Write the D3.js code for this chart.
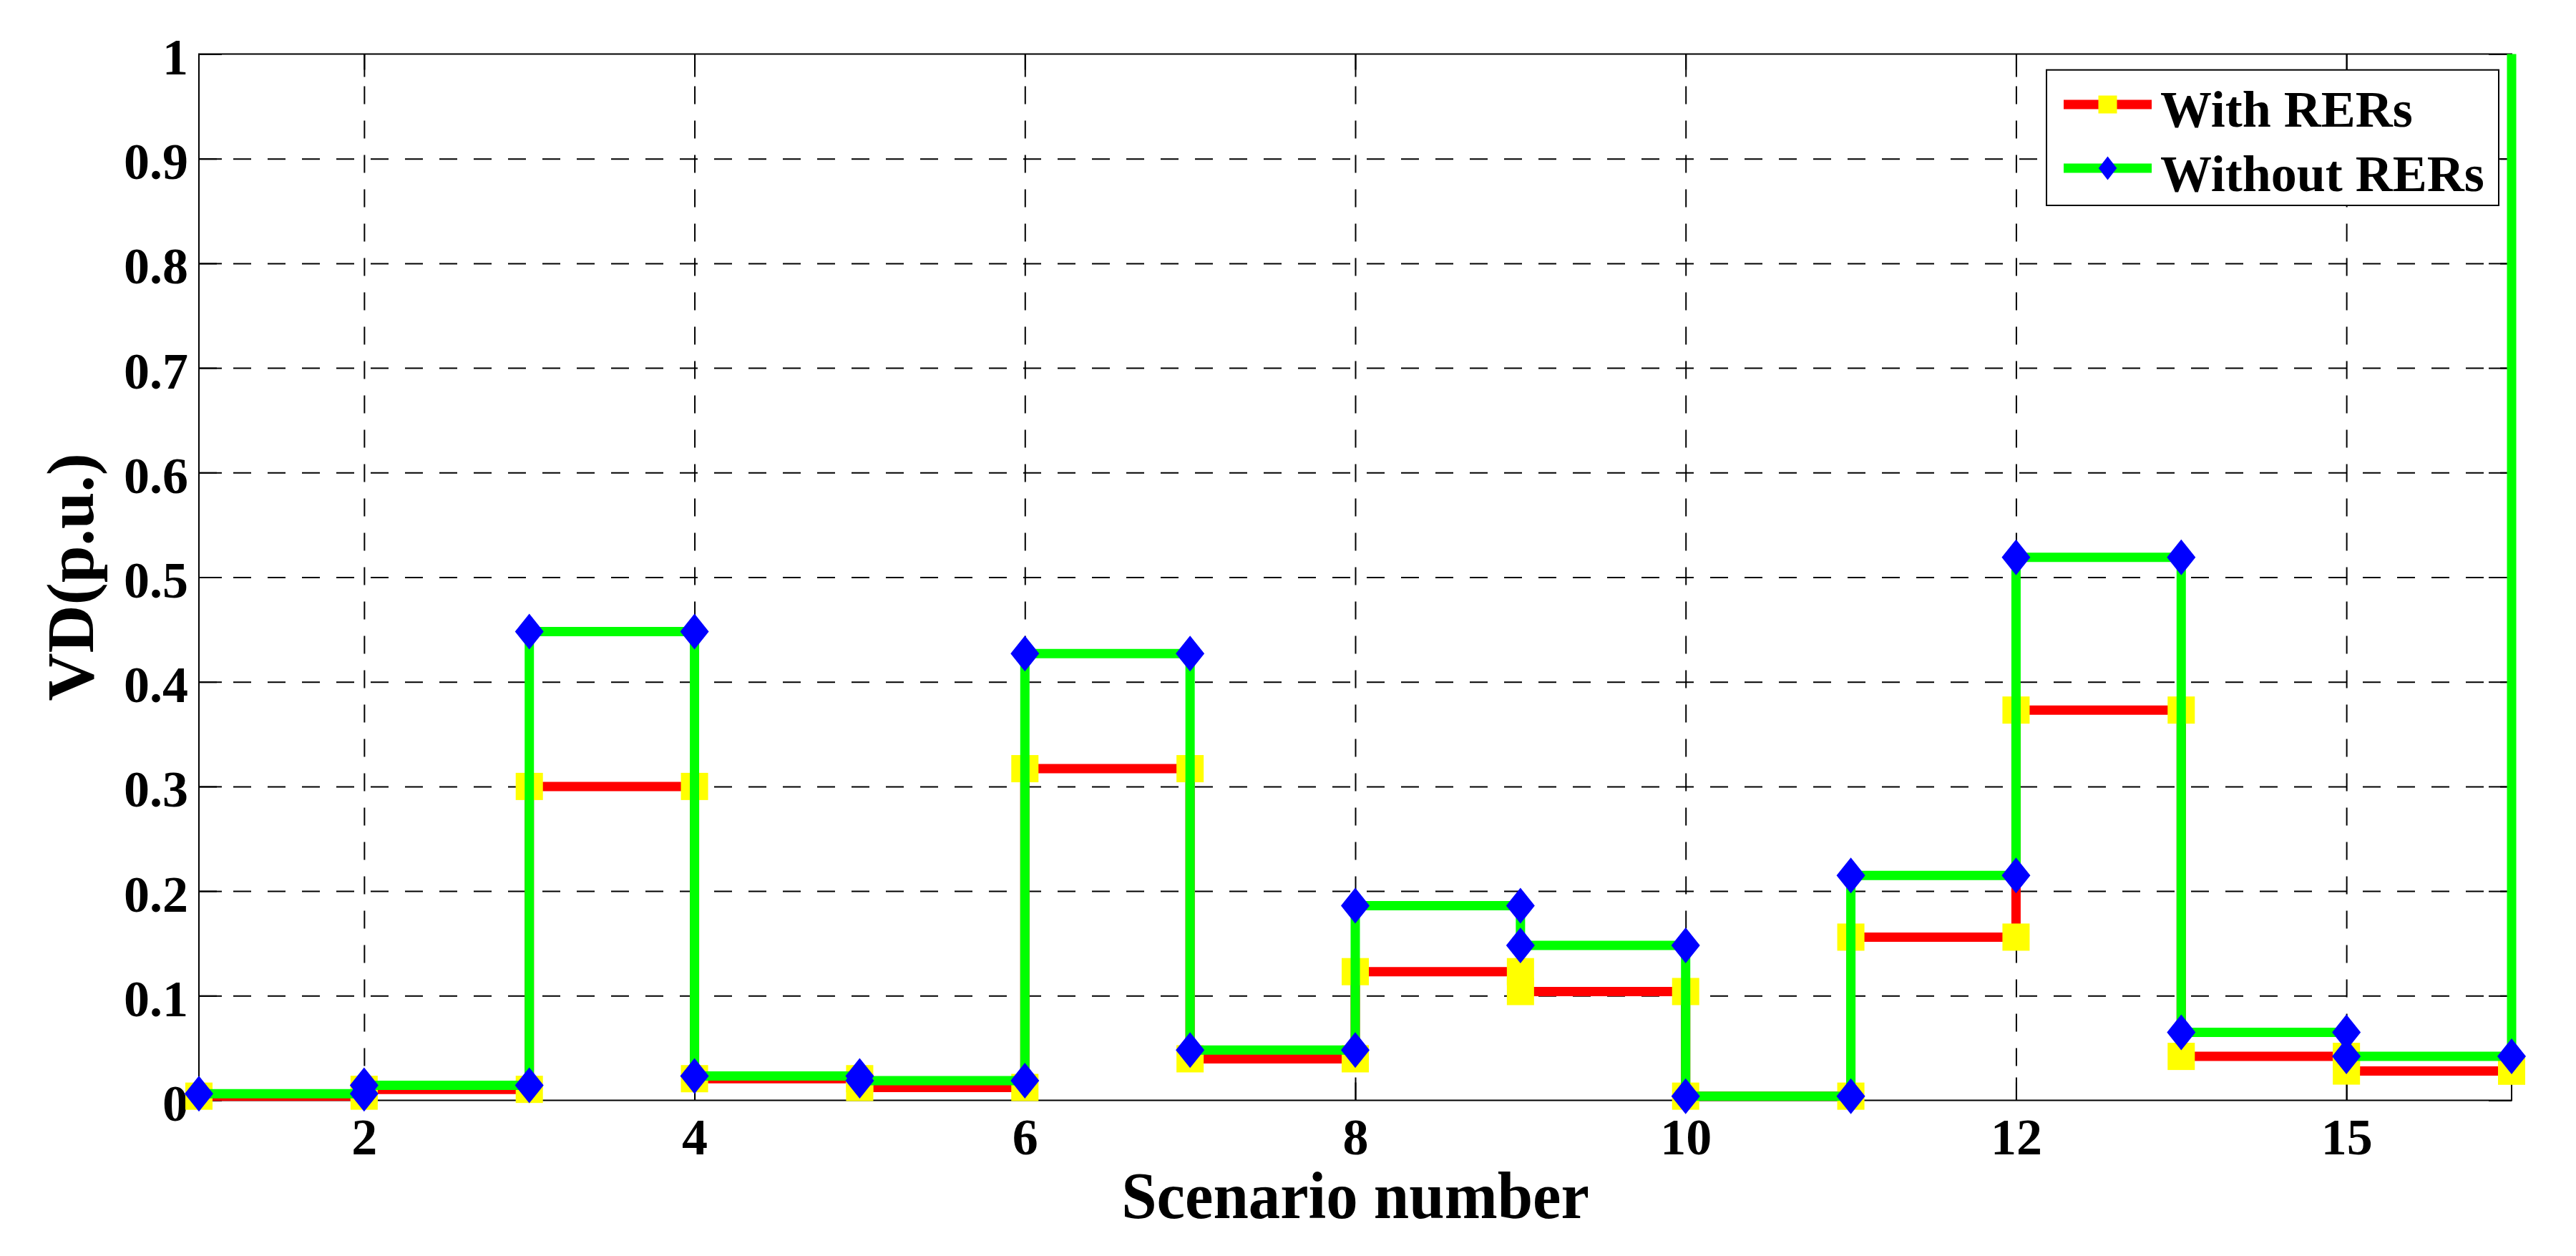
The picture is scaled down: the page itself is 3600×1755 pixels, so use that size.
<!DOCTYPE html>
<html>
<head>
<meta charset="utf-8">
<script src="https://cdn.jsdelivr.net/npm/d3@7"></script>
<style>
  html, body { margin: 0; padding: 0; background: #ffffff; }
  svg { display: block; }
</style>
</head>
<body>
<script>
// ---------------- data ----------------
const scenarios = [1, 2, 3, 4, 5, 6, 7, 8, 9, 10, 11, 12, 13, 14, 15];
const withRERs    = [0.004, 0.0105, 0.300, 0.0207, 0.0123, 0.317, 0.0397, 0.123, 0.104, 0.004, 0.156, 0.373, 0.042, 0.028, 0.028];
const withoutRERs = [0.0063, 0.0143, 0.448, 0.0232, 0.0188, 0.427, 0.048, 0.186, 0.148, 0.004, 0.215, 0.519, 0.065, 0.042, 1.5];
const xTickValues = [2, 4, 6, 8, 10, 12, 14];
const xTickLabels = ["2", "4", "6", "8", "10", "12", "15"];
const yTickValues = [0, 0.1, 0.2, 0.3, 0.4, 0.5, 0.6, 0.7, 0.8, 0.9, 1];
const yTickLabels = ["0", "0.1", "0.2", "0.3", "0.4", "0.5", "0.6", "0.7", "0.8", "0.9", "1"];
const seriesNames = ["With RERs", "Without RERs"];
const xLabel = "Scenario number";
const yLabel = "VD(p.u.)";

// ---------------- layout ----------------
const W = 3600, H = 1755;
const L = 278, R = 3510, T = 75.5, B = 1537.5;
const FONT = "'Liberation Serif', 'Times New Roman', Times, serif";

const svg = d3.select("body").append("svg")
  .attr("width", W).attr("height", H)
  .style("background", "#fff");

const x = d3.scaleLinear().domain([1, 15]).range([L, R]);
const y = d3.scaleLinear().domain([0, 1]).range([B, T]);

// clip (vertical only)
svg.append("defs").append("clipPath").attr("id", "clipY")
  .append("rect").attr("x", L - 100).attr("y", T).attr("width", (R - L) + 200).attr("height", (B - T) + 100);

// ---------------- grid ----------------
const grid = svg.append("g").attr("class", "grid");
grid.append("g").attr("transform", `translate(0,${B})`)
  .call(d3.axisBottom(x).tickValues(xTickValues).tickSize(-(B - T)).tickFormat(""))
  .call(g => g.select(".domain").remove())
  .call(g => g.selectAll("line").attr("stroke", "#000").attr("stroke-width", 2).attr("stroke-dasharray", "25,23"));
grid.append("g").attr("transform", `translate(${L},0)`)
  .call(d3.axisLeft(y).tickValues(yTickValues.filter(v => v > 0 && v < 1)).tickSize(-(R - L)).tickFormat(""))
  .call(g => g.select(".domain").remove())
  .call(g => g.selectAll("line").attr("stroke", "#000").attr("stroke-width", 2).attr("stroke-dasharray", "25,23"));

// ---------------- axes ----------------
const tickLen = 32;
const xAxis = svg.append("g").attr("transform", `translate(0,${B})`)
  .call(d3.axisBottom(x).tickValues(xTickValues).tickSizeInner(-tickLen).tickSizeOuter(0).tickPadding(24.5)
    .tickFormat((d, i) => xTickLabels[i]));
xAxis.select(".domain").remove();
xAxis.selectAll("line").attr("stroke", "#000").attr("stroke-width", 2);
xAxis.selectAll("text").attr("font-family", FONT).attr("font-weight", "bold").attr("font-size", 72).attr("fill", "#000");

const xAxisTop = svg.append("g").attr("transform", `translate(0,${T})`)
  .call(d3.axisTop(x).tickValues(xTickValues).tickSizeInner(-tickLen).tickSizeOuter(0).tickFormat(""));
xAxisTop.select(".domain").remove();
xAxisTop.selectAll("line").attr("stroke", "#000").attr("stroke-width", 2);

const yAxis = svg.append("g").attr("transform", `translate(${L},0)`)
  .call(d3.axisLeft(y).tickValues(yTickValues).tickSizeInner(-tickLen).tickSizeOuter(0).tickPadding(15)
    .tickFormat((d, i) => yTickLabels[i]));
yAxis.select(".domain").remove();
yAxis.selectAll("line").attr("stroke", "#000").attr("stroke-width", 2);
yAxis.selectAll("text").attr("font-family", FONT).attr("font-weight", "bold").attr("font-size", 72)
  .attr("fill", "#000").attr("dy", "0.39em");

const yAxisRight = svg.append("g").attr("transform", `translate(${R},0)`)
  .call(d3.axisRight(y).tickValues(yTickValues).tickSizeInner(-tickLen).tickSizeOuter(0).tickFormat(""));
yAxisRight.select(".domain").remove();
yAxisRight.selectAll("line").attr("stroke", "#000").attr("stroke-width", 2);

// box
svg.append("rect").attr("x", L).attr("y", T).attr("width", R - L).attr("height", B - T)
  .attr("fill", "none").attr("stroke", "#000").attr("stroke-width", 2);

// ---------------- series ----------------
const line = d3.line().x(d => x(d[0])).y(d => y(d[1])).curve(d3.curveStepAfter);

function vertices(vals) {
  const out = [];
  vals.forEach((v, i) => {
    if (i > 0) out.push([scenarios[i], vals[i - 1]]);
    out.push([scenarios[i], v]);
  });
  return out;
}

const plot = svg.append("g");

// With RERs: red line, yellow squares
const redPts = scenarios.map((s, i) => [s, withRERs[i]]);
plot.append("path").datum(redPts).attr("d", line)
  .attr("fill", "none").attr("stroke", "#ff0000").attr("stroke-width", 13)
  .attr("stroke-linejoin", "miter").attr("clip-path", "url(#clipY)");
const sq = 38;
plot.append("g").selectAll("rect")
  .data(vertices(withRERs).filter(d => d[1] <= 1))
  .join("rect")
  .attr("x", d => x(d[0]) - sq / 2).attr("y", d => y(d[1]) - sq / 2)
  .attr("width", sq).attr("height", sq).attr("fill", "#ffff00");

// Without RERs: green line, blue diamonds
const greenPts = scenarios.map((s, i) => [s, withoutRERs[i]]);
plot.append("path").datum(greenPts).attr("d", line)
  .attr("fill", "none").attr("stroke", "#00ff00").attr("stroke-width", 13)
  .attr("stroke-linejoin", "miter").attr("clip-path", "url(#clipY)");
const dw = 20, dh = 25;
plot.append("g").selectAll("path")
  .data(vertices(withoutRERs).filter(d => d[1] <= 1))
  .join("path")
  .attr("d", `M0,${-dh}L${dw},0L0,${dh}L${-dw},0Z`)
  .attr("transform", d => `translate(${x(d[0])},${y(d[1])})`)
  .attr("fill", "#0000ff");

// ---------------- labels ----------------
svg.append("text")
  .attr("transform", `translate(${(L + R) / 2},1702) scale(0.955,1)`)
  .attr("text-anchor", "middle")
  .attr("font-family", FONT).attr("font-weight", "bold").attr("font-size", 93).attr("fill", "#000")
  .text(xLabel);

svg.append("text")
  .attr("transform", `translate(130,${(T + B) / 2}) rotate(-90)`)
  .attr("text-anchor", "middle")
  .attr("font-family", FONT).attr("font-weight", "bold").attr("font-size", 93).attr("fill", "#000")
  .text(yLabel);

// ---------------- legend ----------------
const leg = svg.append("g");
leg.append("rect").attr("x", 2860).attr("y", 97.7).attr("width", 632).attr("height", 189.3)
  .attr("fill", "#fff").attr("stroke", "#000").attr("stroke-width", 2);
const rows = [
  { name: seriesNames[0], line: "#ff0000", marker: "square", mfill: "#ffff00", cy: 146, base: 176.7 },
  { name: seriesNames[1], line: "#00ff00", marker: "diamond", mfill: "#0000ff", cy: 235, base: 266.7 }
];
rows.forEach(r => {
  leg.append("line").attr("x1", 2884).attr("x2", 3007).attr("y1", r.cy).attr("y2", r.cy)
    .attr("stroke", r.line).attr("stroke-width", 13);
  const cx = 2945.5;
  if (r.marker === "square") {
    leg.append("rect").attr("x", cx - 13).attr("y", r.cy - 12.5).attr("width", 26).attr("height", 25).attr("fill", r.mfill);
  } else {
    leg.append("path").attr("d", `M${cx},${r.cy - 16.5}L${cx + 12.75},${r.cy}L${cx},${r.cy + 16.5}L${cx - 12.75},${r.cy}Z`).attr("fill", r.mfill);
  }
  leg.append("text").attr("x", 3019).attr("y", r.base)
    .attr("font-family", FONT).attr("font-weight", "bold").attr("font-size", 72).attr("fill", "#000")
    .text(r.name);
});
</script>
</body>
</html>
